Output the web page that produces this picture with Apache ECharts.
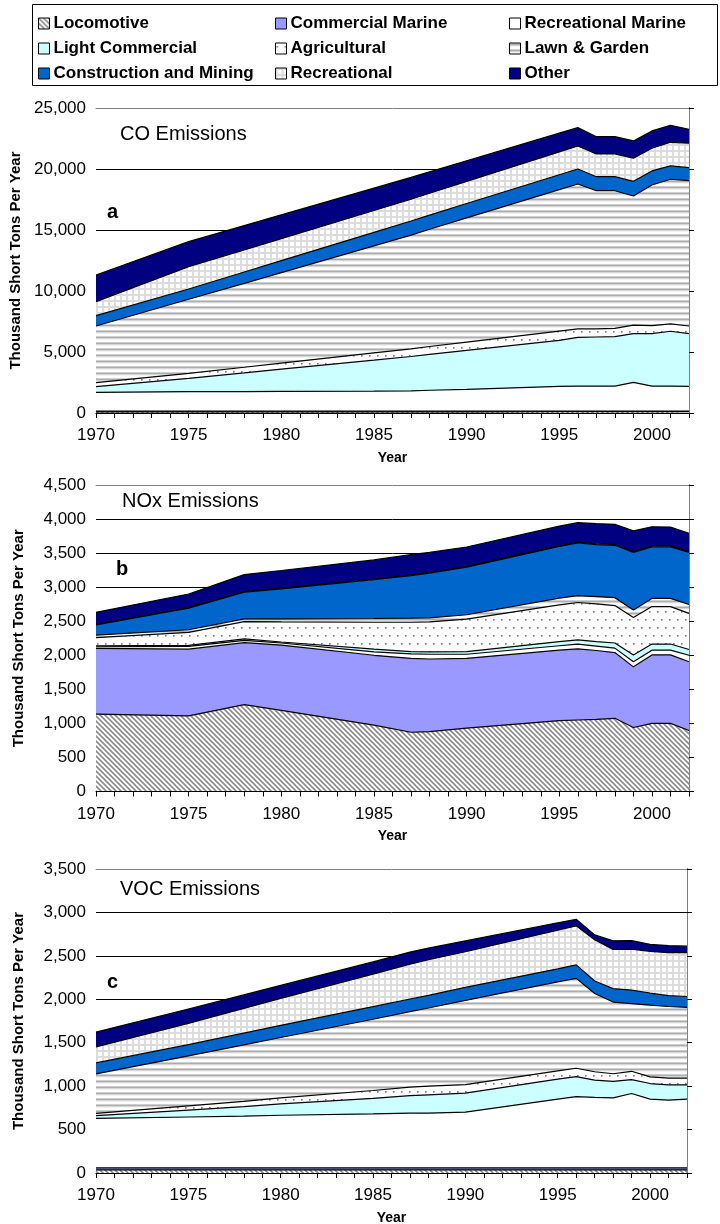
<!DOCTYPE html>
<html>
<head>
<meta charset="utf-8">
<script src="https://cdn.jsdelivr.net/npm/echarts@6.0.0/dist/echarts.min.js"></script>
<style>
  html, body { margin: 0; padding: 0; background: #fff; }
  #chart { width: 720px; height: 1224px; }
</style>
</head>
<body>
<div id="chart"></div>
<script>
// Inventory years (thousand short tons per year)
const years = [1970, 1975, 1978, 1980, 1985, 1987, 1988, 1990, 1995, 1996, 1997, 1998, 1999, 2000, 2001, 2002];

const categories = ['Locomotive', 'Commercial Marine', 'Recreational Marine', 'Light Commercial',
  'Agricultural', 'Lawn & Garden', 'Construction and Mining', 'Recreational', 'Other'];

// CO
const coLocomotive         = [95, 95, 100, 100, 100, 100, 100, 100, 105, 105, 105, 105, 105, 105, 105, 105];
const coCommercialMarine   = [60, 60, 60, 60, 60, 60, 60, 60, 60, 60, 60, 60, 60, 60, 60, 60];
const coRecreationalMarine = [1540, 1595, 1600, 1610, 1640, 1660, 1705, 1780, 2025, 2045, 2045, 2045, 2345, 2045, 2035, 2025];
const coLightCommercial    = [465, 1095, 1530, 1820, 2530, 2810, 2935, 3190, 3760, 3990, 4020, 4050, 3990, 4290, 4500, 4310];
const coAgricultural       = [330, 410, 460, 500, 600, 630, 650, 680, 760, 690, 670, 680, 710, 660, 600, 630];
const coLawnGarden         = [4645, 6065, 6880, 7420, 8770, 9320, 9610, 10180, 11600, 11880, 11320, 11280, 10580, 11530, 11860, 11910];
const coConstruction       = [845, 845, 930, 980, 1110, 1160, 1160, 1180, 1220, 1230, 1150, 1150, 1200, 1150, 1090, 1070];
const coRecreational       = [1145, 1830, 1810, 1800, 1790, 1780, 1795, 1810, 1870, 1890, 1860, 1860, 1890, 1860, 1940, 2000];
const coOther              = [2190, 2050, 1990, 1950, 1830, 1790, 1755, 1695, 1540, 1500, 1420, 1420, 1420, 1420, 1390, 1140];

// NOx
const noxLocomotive         = [1135, 1110, 1275, 1190, 975, 870, 880, 930, 1040, 1050, 1060, 1075, 940, 1000, 1000, 895];
const noxCommercialMarine   = [965, 980, 910, 960, 1025, 1085, 1065, 1025, 1035, 1045, 1010, 965, 890, 1005, 1005, 1010];
const noxRecreationalMarine = [25, 40, 35, 30, 50, 65, 70, 60, 65, 70, 65, 65, 75, 70, 70, 95];
const noxLightCommercial    = [15, 15, 20, 15, 40, 35, 35, 40, 60, 60, 65, 75, 100, 90, 90, 85];
const noxAgricultural       = [120, 190, 255, 295, 395, 430, 440, 475, 540, 550, 555, 550, 550, 550, 550, 530];
const noxLawnGarden         = [35, 40, 40, 45, 55, 60, 60, 65, 100, 100, 105, 115, 110, 120, 120, 130];
const noxConstruction       = [150, 315, 390, 440, 570, 625, 655, 700, 760, 775, 765, 770, 845, 755, 755, 765];
const noxRecreational       = [10, 10, 10, 10, 10, 10, 10, 10, 10, 12, 12, 12, 12, 12, 12, 12];
const noxOther              = [175, 200, 250, 260, 280, 300, 295, 285, 285, 285, 295, 295, 305, 285, 280, 270];

// VOC
const vocLocomotive         = [35, 35, 35, 35, 35, 35, 35, 35, 35, 35, 35, 35, 35, 35, 35, 35];
const vocCommercialMarine   = [25, 25, 25, 25, 25, 25, 25, 25, 25, 25, 25, 25, 25, 25, 25, 25];
const vocRecreationalMarine = [570, 585, 595, 605, 620, 630, 630, 640, 790, 820, 810, 805, 855, 790, 780, 790];
const vocLightCommercial    = [30, 80, 110, 130, 180, 200, 210, 220, 230, 230, 200, 190, 160, 180, 175, 165];
const vocAgricultural       = [27, 48, 60, 70, 90, 98, 100, 97, 96, 96, 96, 88, 96, 77, 77, 77];
const vocLawnGarden         = [455, 575, 650, 695, 820, 870, 900, 970, 1025, 1035, 900, 825, 780, 825, 825, 815];
const vocConstruction       = [125, 130, 135, 140, 145, 145, 145, 150, 150, 155, 145, 155, 155, 140, 125, 125];
const vocRecreational       = [185, 245, 285, 310, 375, 400, 410, 410, 445, 450, 475, 450, 470, 480, 495, 505];
const vocOther              = [170, 165, 155, 150, 140, 140, 135, 125, 85, 75, 55, 100, 100, 80, 80, 75];

const panelTitles = ['CO Emissions', 'NOx Emissions', 'VOC Emissions'];
const panelLetters = ['a', 'b', 'c'];
const yMaxima = [25000, 4500, 3500];
const yIntervals = [5000, 500, 500];

const panelData = [
  [coLocomotive, coCommercialMarine, coRecreationalMarine, coLightCommercial, coAgricultural,
   coLawnGarden, coConstruction, coRecreational, coOther],
  [noxLocomotive, noxCommercialMarine, noxRecreationalMarine, noxLightCommercial, noxAgricultural,
   noxLawnGarden, noxConstruction, noxRecreational, noxOther],
  [vocLocomotive, vocCommercialMarine, vocRecreationalMarine, vocLightCommercial, vocAgricultural,
   vocLawnGarden, vocConstruction, vocRecreational, vocOther]
];

// ---- fills ----
function pattern(w, h, paint) {
  const c = document.createElement('canvas');
  c.width = w; c.height = h;
  const g = c.getContext('2d');
  paint(g, w, h);
  return { image: c, repeat: 'repeat' };
}
const hatchFill = pattern(5, 5, (g) => {
  g.fillStyle = '#ffffff'; g.fillRect(0, 0, 5, 5);
  g.strokeStyle = '#8a8a8a'; g.lineWidth = 1.6;
  g.beginPath();
  g.moveTo(-1, -1); g.lineTo(6, 6);
  g.moveTo(-1, 4); g.lineTo(1, 6);
  g.moveTo(4, -1); g.lineTo(6, 1);
  g.stroke();
});
const dotFill = pattern(8, 16, (g) => {
  g.fillStyle = '#ffffff'; g.fillRect(0, 0, 8, 16);
  g.fillStyle = '#7a7a7a';
  g.fillRect(1, 3, 1.6, 1.6);
  g.fillRect(5, 11, 1.6, 1.6);
});
const stripeFill = pattern(2, 6, (g) => {
  g.fillStyle = '#ffffff'; g.fillRect(0, 0, 2, 6);
  g.fillStyle = '#cfcfcf'; g.fillRect(0, 0, 2, 1);
  g.fillStyle = '#adadad'; g.fillRect(0, 1, 2, 1);
  g.fillStyle = '#d6d6d6'; g.fillRect(0, 2, 2, 1);
  g.fillStyle = '#f4f4f4'; g.fillRect(0, 3, 2, 1);
});
const gridFill = pattern(6, 6, (g) => {
  g.fillStyle = '#ffffff'; g.fillRect(0, 0, 6, 6);
  g.fillStyle = '#dcdcdc';
  g.fillRect(0, 0, 6, 2);
  g.fillRect(0, 0, 2, 6);
});

const fills = [hatchFill, '#9999FF', '#FFFFFF', '#CCFFFF', dotFill, stripeFill, '#0066CC', gridFill, '#000080'];

const FONT = 'Liberation Sans, Arial, sans-serif';
const fmt = (v) => Number(v).toLocaleString('en-US');

const grids = [
  { left: 96, right: 31, top: 108, height: 305 },
  { left: 96, right: 31, top: 485, height: 306.5 },
  { left: 96, right: 33, top: 869, height: 304 }
];

const xAxes = [], yAxes = [], series = [];

panelData.forEach((layers, p) => {
  // bottom year axis (drawn above the areas)
  xAxes.push({
    gridIndex: p, type: 'value', min: 1970, max: 2002, interval: 1, z: 10,
    axisLine: { show: true, onZero: false, lineStyle: { color: '#000', width: 1 } },
    axisTick: { show: true, length: 5, lineStyle: { color: '#000', width: 1 } },
    axisLabel: {
      formatter: (v) => (v % 5 === 0 ? String(v) : ''),
      color: '#000', fontSize: 17, fontFamily: FONT, margin: 14
    },
    splitLine: { show: false },
    name: 'Year', nameLocation: 'middle', nameGap: 38,
    nameTextStyle: { color: '#000', fontSize: 14, fontWeight: 'bold', fontFamily: FONT }
  });
  // top frame edge
  xAxes.push({
    gridIndex: p, type: 'value', position: 'top', min: 1970, max: 2002, z: 10,
    axisLine: { show: true, onZero: false, lineStyle: { color: '#808080', width: 1 } },
    axisTick: { show: false }, axisLabel: { show: false }, splitLine: { show: false }
  });
  // value axis with labels and gridlines (behind areas)
  yAxes.push({
    gridIndex: p, type: 'value', min: 0, max: yMaxima[p], interval: yIntervals[p], z: 0,
    axisLine: { show: false }, axisTick: { show: false },
    axisLabel: { formatter: fmt, color: '#000', fontSize: 17, fontFamily: FONT, margin: 10 },
    splitLine: { show: true, showMinLine: false, showMaxLine: false, lineStyle: { color: '#000', width: 1 } },
    name: 'Thousand Short Tons Per Year', nameLocation: 'middle', nameGap: 70,
    nameTextStyle: { color: '#000', fontSize: 15, fontWeight: 'bold', fontFamily: FONT }
  });
  // left axis line and ticks drawn above the areas
  yAxes.push({
    gridIndex: p, type: 'value', min: 0, max: yMaxima[p], interval: yIntervals[p], z: 10,
    axisLine: { show: true, onZero: false, lineStyle: { color: '#000', width: 1 } },
    axisTick: { show: true, length: 5, lineStyle: { color: '#000' } },
    axisLabel: { show: false }, splitLine: { show: false }
  });
  // right frame edge
  yAxes.push({
    gridIndex: p, type: 'value', position: 'right', min: 0, max: yMaxima[p], z: 10,
    axisLine: { show: true, onZero: false, lineStyle: { color: '#808080', width: 1 } },
    axisTick: { show: false }, axisLabel: { show: false }, splitLine: { show: false }
  });

  layers.forEach((vals, k) => {
    // value first, year second, so the stack runs along the value axis
    const pts = years.map((yr, j) => [vals[j], yr]);
    const common = {
      type: 'line', name: categories[k], xAxisIndex: 2 * p, yAxisIndex: 3 * p,
      data: pts, encode: { x: 1, y: 0 }, showSymbol: false, symbol: 'none',
      emphasis: { disabled: true }, silent: true
    };
    // filled band
    series.push(Object.assign({}, common, {
      stack: 'area' + p, z: 2,
      lineStyle: { width: 0, color: '#000' },
      itemStyle: { color: fills[k] },
      areaStyle: { color: fills[k], opacity: 1 }
    }));
    // black outline along the top of the band
    series.push(Object.assign({}, common, {
      stack: 'edge' + p, z: 3,
      lineStyle: { width: 1.2, color: '#000' },
      itemStyle: { color: '#000' }
    }));
  });
});

const titles = [
  { text: panelTitles[0], left: 120, top: 124 },
  { text: panelTitles[1], left: 122, top: 491 },
  { text: panelTitles[2], left: 120, top: 879 },
  { text: panelLetters[0], left: 107, top: 202, bold: true },
  { text: panelLetters[1], left: 116, top: 559, bold: true },
  { text: panelLetters[2], left: 107, top: 972, bold: true }
];

const legendColumns = [
  [0, 3, 6],
  [1, 4, 7],
  [2, 5, 8]
];
const legendLefts = [38, 275, 509];

const option = {
  animation: false,
  backgroundColor: '#fff',
  title: titles.map((t) => ({
    text: t.text, left: t.left, top: t.top, padding: 0,
    textStyle: { color: '#000', fontSize: 20, fontWeight: t.bold ? 'bold' : 'normal', fontFamily: FONT }
  })),
  legend: legendColumns.map((col, c) => ({
    orient: 'vertical', left: legendLefts[c], top: 15, padding: 0,
    itemWidth: 11, itemHeight: 11, itemGap: 8, icon: 'rect', selectedMode: false,
    itemStyle: { borderColor: '#000', borderWidth: 1 },
    textStyle: { color: '#000', fontSize: 17, fontWeight: 'bold', fontFamily: FONT, padding: [0, 0, 0, -1] },
    data: col.map((k) => ({ name: categories[k], itemStyle: { color: fills[k], borderColor: '#000', borderWidth: 1 } }))
  })),
  graphic: [{
    type: 'rect', z: 100,
    shape: { x: 32.5, y: 4.5, width: 685, height: 81 },
    style: { fill: 'none', stroke: '#000', lineWidth: 1 }
  }],
  grid: grids.map((g) => Object.assign({ outerBoundsMode: 'none', containLabel: false }, g)),
  xAxis: xAxes,
  yAxis: yAxes,
  series: series
};

const chart = echarts.init(document.getElementById('chart'), null, { renderer: 'canvas' });
chart.setOption(option);
</script>
</body>
</html>
